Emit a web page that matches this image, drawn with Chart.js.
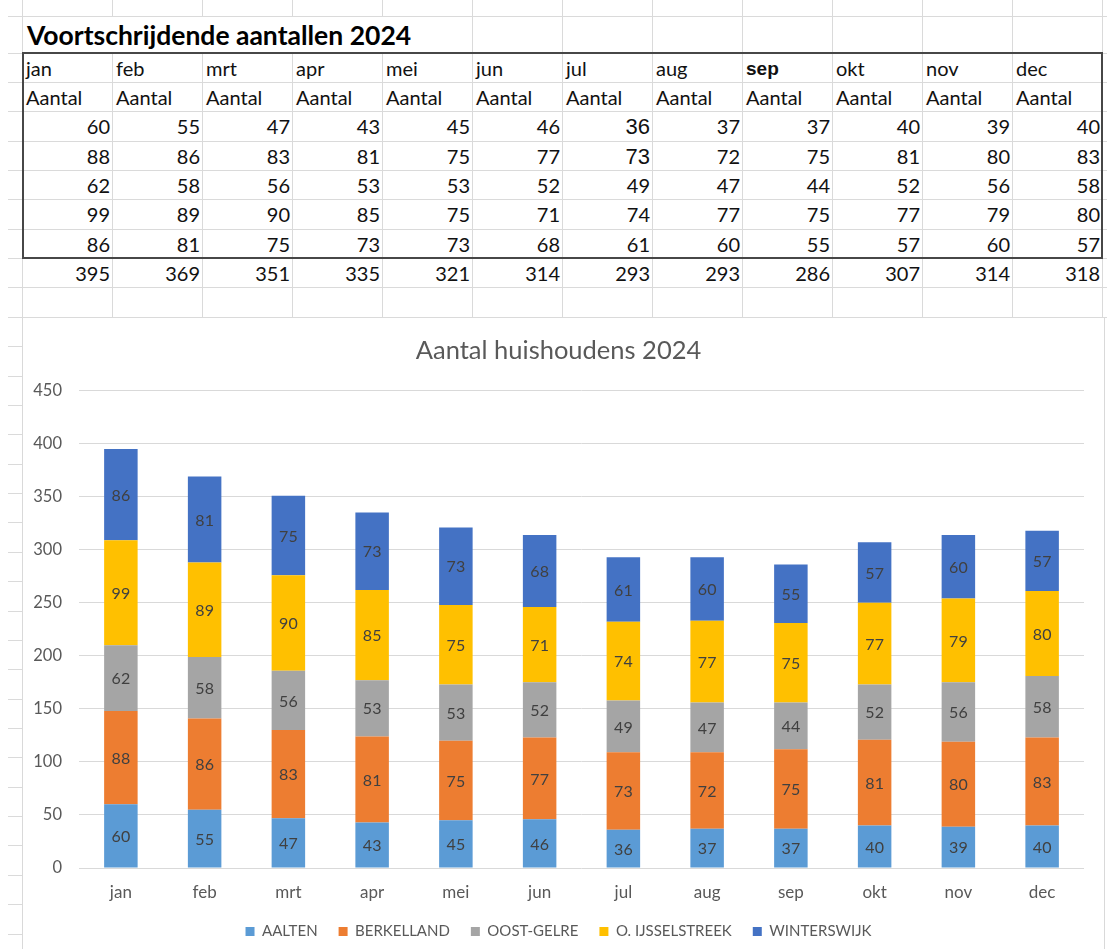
<!DOCTYPE html>
<html>
<head>
<meta charset="utf-8">
<script src="https://cdn.jsdelivr.net/npm/chart.js@4.4.1/dist/chart.umd.min.js"></script>
<style>
html,body{margin:0;padding:0;background:#fff;width:1107px;height:949px;overflow:hidden;font-family:Lato,"Open Sans",sans-serif;}
#sheet{position:absolute;left:0;top:0;width:1107px;height:949px;}
.hl{position:absolute;height:1px;background:#dadada;}
.vl{position:absolute;width:1px;background:#dadada;}
.cell{position:absolute;font-size:20px;color:#111;white-space:nowrap;box-sizing:border-box;padding:0 2px 0 4px;}
.title{position:absolute;font-weight:bold;font-size:26.5px;color:#000;white-space:nowrap;}
#border{position:absolute;border:2px solid #474747;box-sizing:border-box;}
#chartBox{position:absolute;left:22px;top:318px;width:1081px;height:631px;background:#fff;border-left:1px solid #d9d9d9;border-right:1px solid #d9d9d9;}
#c{position:absolute;left:0;top:0;}
</style>
</head>
<body>
<div id="sheet"></div>
<div id="chartBox"><canvas id="c" width="1080" height="631"></canvas></div>
<script>
// ---------------- data ----------------
const sheetTitle = 'Voortschrijdende aantallen 2024';
const chartTitle = 'Aantal huishoudens 2024';
const months = ['jan','feb','mrt','apr','mei','jun','jul','aug','sep','okt','nov','dec'];
const headerLabel = 'Aantal';
const seriesNames = ['AALTEN','BERKELLAND','OOST-GELRE','O. IJSSELSTREEK','WINTERSWIJK'];
const aalten        = [60,55,47,43,45,46,36,37,37,40,39,40];
const berkelland    = [88,86,83,81,75,77,73,72,75,81,80,83];
const oostGelre     = [62,58,56,53,53,52,49,47,44,52,56,58];
const oIJsselstreek = [99,89,90,85,75,71,74,77,75,77,79,80];
const winterswijk   = [86,81,75,73,73,68,61,60,55,57,60,57];
const totals        = [395,369,351,335,321,314,293,293,286,307,314,318];
const yMin = 0, yMax = 450, yStep = 50;

// ---------------- styles ----------------
const seriesColors = ['#5B9BD5','#ED7D31','#A5A5A5','#FFC000','#4472C4'];
const COL0 = 22, COLW = 90, NCOL = 12;
const ROW_TITLE = 16, TABLE_TOP = 52.5, ROWH = 29.37;
const CHART_TOP = 318;

const sheet = document.getElementById('sheet');
function add(cls, css, text){
  const d = document.createElement('div');
  if (cls) d.className = cls;
  Object.assign(d.style, css);
  if (text !== undefined) d.textContent = text;
  sheet.appendChild(d);
  return d;
}
// horizontal gridlines
add('hl', {left:'8px', width:'1099px', top:ROW_TITLE+'px'});
for (let k=0; ; k++){
  const y = Math.round(TABLE_TOP + k*ROWH);
  if (y > 949) break;
  if (y <= CHART_TOP) add('hl', {left:'8px', width:'1099px', top:y+'px'});
  else add('hl', {left:'8px', width:(COL0-8)+'px', top:y+'px'});
}
// vertical gridlines
for (let i=0; i<=NCOL; i++){
  const x = COL0 + i*COLW;
  add('vl', {left:x+'px', top:'0px', height:ROW_TITLE+'px'});
  if (i===0 || i>=5) add('vl', {left:x+'px', top:ROW_TITLE+'px', height:(TABLE_TOP-ROW_TITLE)+'px'});
  add('vl', {left:x+'px', top:Math.round(TABLE_TOP)+'px', height:(i===0||i===NCOL ? 949-TABLE_TOP : CHART_TOP-TABLE_TOP)+'px'});
}
// title
add('title', {left:'27px', top:'18px', height:'34px', lineHeight:'34px'}, sheetTitle);
// table border
const border = add('', {left:COL0+'px', top:'52px', width:(NCOL*COLW+1)+'px', height:'207px'});
border.id = 'border';

const seriesValues = [aalten, berkelland, oostGelre, oIJsselstreek, winterswijk];
const specialFont = {'0,8':{fontFamily:'"Liberation Sans",Arial,sans-serif', fontWeight:'bold', fontSize:'19px'},
                     '2,6':{fontFamily:'"Liberation Sans",Arial,sans-serif', fontSize:'22px'},
                     '3,6':{fontFamily:'"Liberation Sans",Arial,sans-serif', fontSize:'22px'}};
function cell(r, c, text, align){
  const top = TABLE_TOP + r*ROWH;
  const css = {left:(COL0 + c*COLW)+'px', width:COLW+'px', top:(top+1)+'px', height:ROWH+'px', lineHeight:ROWH+'px', textAlign:align};
  if (specialFont[r+','+c]) Object.assign(css, specialFont[r+','+c]);
  add('cell', css, text);
}
for (let c=0; c<NCOL; c++){
  cell(0, c, months[c], 'left');
  cell(1, c, headerLabel, 'left');
  for (let s=0; s<seriesValues.length; s++) cell(2+s, c, String(seriesValues[s][c]), 'right');
  cell(7, c, String(totals[c]), 'right');
}

// ---------------- chart ----------------
const valueLabels = {
  id:'valueLabels',
  afterDatasetsDraw(chart){
    const ctx = chart.ctx;
    ctx.save();
    ctx.font = '16px Lato, "Open Sans", sans-serif';
    ctx.fillStyle = '#404040';
    ctx.textAlign = 'center';
    ctx.textBaseline = 'middle';
    chart.data.datasets.forEach((ds, di) => {
      const meta = chart.getDatasetMeta(di);
      meta.data.forEach((bar, i) => {
        const p = bar.getProps(['x','y','base'], true);
        ctx.fillText(String(ds.data[i]), p.x, (p.y + p.base)/2 + 1);
      });
    });
    ctx.restore();
  }
};

function draw(){
  Chart.defaults.font.family = 'Lato, "Open Sans", sans-serif';
  Chart.defaults.color = '#595959';
  new Chart(document.getElementById('c'), {
    type:'bar',
    data:{
      labels: months,
      datasets: seriesNames.map((n,i)=>({
        label:n, data:seriesValues[i], backgroundColor:seriesColors[i],
        borderWidth:0, barPercentage:0.4, categoryPercentage:1
      }))
    },
    options:{
      responsive:false, animation:false,
      layout:{padding:{left:10, right:19, top:0, bottom:0}},
      plugins:{
        title:{display:true, text:chartTitle, color:'#595959',
               font:{size:25.5, weight:'normal'}, padding:{top:17, bottom:25}},
        legend:{position:'bottom',
                labels:{boxWidth:9, boxHeight:9, color:'#595959', font:{size:15}, padding:21}},
        tooltip:{enabled:false}
      },
      scales:{
        x:{stacked:true, grid:{display:false, drawTicks:false}, border:{display:false},
           ticks:{color:'#595959', font:{size:17}, padding:14},
           afterFit(s){ s.height = 35; }},
        y:{stacked:true, min:yMin, max:yMax,
           ticks:{stepSize:yStep, color:'#595959', font:{size:16.5}, padding:17},
           grid:{color:'#d9d9d9', drawTicks:false}, border:{display:false},
           afterFit(s){ s.width = 46; }}
      }
    },
    plugins:[valueLabels]
  });
}
if (document.fonts && document.fonts.load) {
  Promise.all([document.fonts.load('16px Lato'), document.fonts.load('bold 24px Lato')]).then(draw, draw);
} else draw();
</script>
</body>
</html>
